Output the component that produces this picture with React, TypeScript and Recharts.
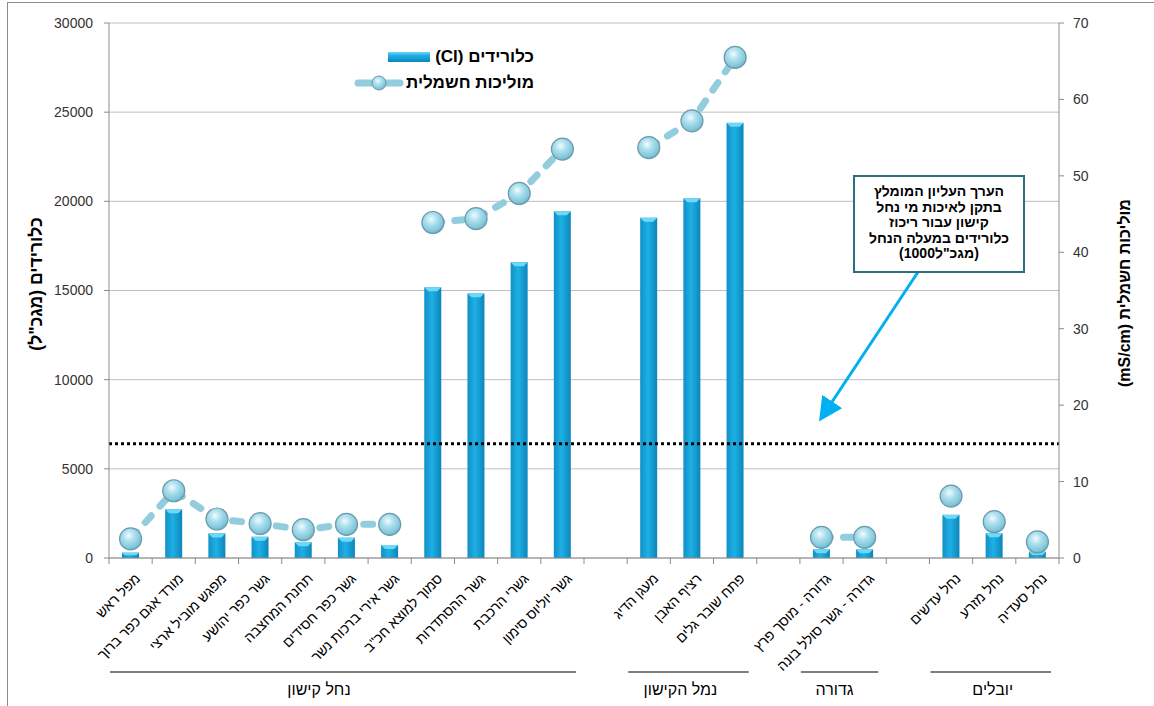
import React from 'react';
import { ComposedChart, Bar, Line, XAxis, YAxis, CartesianGrid, ReferenceLine } from 'recharts';

// ---------- DATA ----------
const categories = [
  'מפל ראש',
  'מורד אגם כפר ברוך',
  'מפגש מוביל ארצי',
  'גשר כפר יהושע',
  'תחנת המחצבה',
  'גשר כפר חסידים',
  'גשר אירי ברכות נשר',
  'סמוך למוצא חכ"ב',
  'גשר ההסתדרות',
  'גשרי הרכבת',
  'גשר יוליוס סימון',
  '',
  'מעגן הדיג',
  'רציף האבן',
  'פתח שובר גלים',
  '',
  'גדורה - מוסך פרץ',
  'גדורה - גשר סולל בונה',
  '',
  'נחל עדשים',
  'נחל מזרע',
  'נחל סעדיה',
];

// chlorides (mg/L), left axis
const chlorides = [300, 2730, 1380, 1190, 880, 1140, 730, 15180, 14840, 16590, 19440, null, 19080, 20170, 24400, null, 490, 490, null, 2420, 1390, 350];

// electrical conductivity (mS/cm), right axis
const conductivity = [2.5, 8.8, 5.1, 4.5, 3.7, 4.4, 4.4, 43.9, 44.4, 47.7, 53.5, null, 53.7, 57.2, 65.5, null, 2.7, 2.7, null, 8.1, 4.75, 2.1];

// which connected line piece each point belongs to (0 = none)
const segmentIds = [1, 1, 1, 1, 1, 1, 1, 2, 2, 2, 2, 0, 3, 3, 3, 0, 4, 4, 0, 5, 6, 7];

const groupNames = ['נחל קישון', 'נמל הקישון', 'גדורה', 'יובלים'];
const groupFirst = [0, 12, 16, 19];
const groupLast = [10, 14, 17, 21];

const leftTicks = [0, 5000, 10000, 15000, 20000, 25000, 30000];
const rightTicks = [0, 10, 20, 30, 40, 50, 60, 70];
const chlorideLimit = 6400;

const legendBarLabel = 'כלורידים (Cl)';
const legendLineLabel = 'מוליכות חשמלית';
const leftTitle = 'כלורידים (מגכ"ל)';
const rightTitle = 'מוליכות חשמלית (mS/cm)';
const noteLines = ['הערך העליון המומלץ', 'בתקן לאיכות מי נחל', 'קישון עבור ריכוז', 'כלורידים במעלה הנחל'];
const noteLast = '(מגכ"ל1000)';

const data = categories.map((name, i) => ({
  name,
  cl: chlorides[i],
  condA: segmentIds[i] % 2 === 1 ? conductivity[i] : null,
  condB: segmentIds[i] > 0 && segmentIds[i] % 2 === 0 ? conductivity[i] : null,
}));

// ---------- LAYOUT / STYLE ----------
const W = 1154;
const H = 706;
const PLOT_LEFT = 109;
const PLOT_RIGHT = 1059;
const PLOT_TOP = 23;
const PLOT_BOTTOM = 558;
const SLOT = (PLOT_RIGHT - PLOT_LEFT) / categories.length;
const FONT = '"Liberation Sans", Arial, sans-serif';
const GROUP_LABEL_DX = [-24, -8, -5, 2];

const CategoryTick = (props: any) => {
  const { x, payload, index } = props;
  const i = payload && typeof payload.index === 'number' ? payload.index : index;
  const label = categories[i];
  const g = groupFirst.indexOf(i);
  const els: any[] = [];
  els.push(<line key="t" x1={x + SLOT / 2} x2={x + SLOT / 2} y1={PLOT_BOTTOM} y2={PLOT_BOTTOM + 6} stroke="#8c8c8c" />);
  if (i === 0) els.push(<line key="t0" x1={x - SLOT / 2} x2={x - SLOT / 2} y1={PLOT_BOTTOM} y2={PLOT_BOTTOM + 6} stroke="#8c8c8c" />);
  if (label) {
    els.push(
      <text
        key="l"
        transform={`translate(${x + 7},${PLOT_BOTTOM + 18}) rotate(-45)`}
        textAnchor="end"
        dy="0.35em"
        fontSize={14}
        fill="#000"
        fontFamily={FONT}
      >
        {label}
      </text>
    );
  }
  if (g >= 0) {
    const n = groupLast[g] - groupFirst[g] + 1;
    const x1 = x - SLOT / 2 + 1;
    const x2 = x - SLOT / 2 + n * SLOT - 8;
    els.push(<line key="gl" x1={x1} x2={x2} y1={PLOT_BOTTOM + 114} y2={PLOT_BOTTOM + 114} stroke="#000" strokeWidth={1.2} />);
    els.push(
      <text key="gt" x={(x1 + x2) / 2 + GROUP_LABEL_DX[g]} y={PLOT_BOTTOM + 137} textAnchor="middle" fontSize={16} fill="#000" fontFamily={FONT}>
        {groupNames[g]}
      </text>
    );
  }
  return <g>{els}</g>;
};

const BarShape = (p: any) => {
  const { x, y, width, height } = p;
  if (height == null || height <= 0) return <g />;
  const b = Math.min(4, height / 2);
  return (
    <g>
      <rect x={x} y={y} width={width} height={height} fill="url(#barGrad)" />
      <polygon points={`${x},${y} ${x + width},${y} ${x + width - b},${y + b} ${x + b},${y + b}`} fill="#6fd8f5" />
    </g>
  );
};

const Sphere = (p: any) => {
  const { cx, cy, value, index } = p;
  if (value == null || cx == null || cy == null || isNaN(cy)) return <g key={`e${index}`} />;
  return <circle key={`s${index}`} cx={cx} cy={cy} r={11} fill="url(#sphereGrad)" stroke="#6c9aab" strokeWidth={1.2} />;
};

const LINE_COLOR = '#93cddd';

export default function App() {
  return (
    <div style={{ position: 'absolute', left: 0, top: 0, width: W, height: H, overflow: 'hidden', background: '#fff', fontFamily: FONT }}>
      <svg width={W} height={H} style={{ position: 'absolute', left: 0, top: 0 }}>
        <rect x={7.5} y={2.5} width={1300} height={900} fill="none" stroke="#8a8a8a" />
      </svg>
      <div style={{ position: 'absolute', left: 0, top: 0 }}>
        <ComposedChart width={W} height={H} data={data} margin={{ top: PLOT_TOP, right: 0, bottom: 0, left: 0 }} barSize={17}>
          <defs>
            <linearGradient id="barGrad" x1="0" y1="0" x2="1" y2="0">
              <stop offset="0%" stopColor="#1190c6" />
              <stop offset="45%" stopColor="#1eb0e5" />
              <stop offset="100%" stopColor="#0c86bb" />
            </linearGradient>
            <radialGradient id="sphereGrad" cx="42%" cy="35%" r="65%">
              <stop offset="0%" stopColor="#f2fbfe" />
              <stop offset="40%" stopColor="#ace0ee" />
              <stop offset="85%" stopColor="#82c6da" />
              <stop offset="100%" stopColor="#6eb2c7" />
            </radialGradient>
          </defs>
          <CartesianGrid yAxisId="left" vertical={false} stroke="#bfbfbf" />
          <XAxis dataKey="name" interval={0} height={H - PLOT_BOTTOM} tickLine={false} axisLine={{ stroke: '#8c8c8c' }} tick={<CategoryTick />} />
          <YAxis
            yAxisId="left"
            width={PLOT_LEFT}
            domain={[0, 30000]}
            ticks={leftTicks}
            interval={0}
            tickSize={5}
            tickMargin={11}
            axisLine={{ stroke: '#8c8c8c' }}
            tickLine={{ stroke: '#8c8c8c' }}
            tick={{ fontSize: 14, fill: '#333', fontFamily: FONT }}
          />
          <YAxis
            yAxisId="right"
            orientation="right"
            width={W - PLOT_RIGHT}
            domain={[0, 70]}
            ticks={rightTicks}
            interval={0}
            tickSize={5}
            tickMargin={9}
            axisLine={{ stroke: '#8c8c8c' }}
            tickLine={{ stroke: '#8c8c8c' }}
            tick={{ fontSize: 14, fill: '#333', fontFamily: FONT }}
          />
          <Bar yAxisId="left" dataKey="cl" shape={<BarShape />} isAnimationActive={false} />
          <ReferenceLine yAxisId="left" y={chlorideLimit} stroke="#000" strokeWidth={3} strokeDasharray="3 3" />
          <Line
            yAxisId="right"
            dataKey="condA"
            type="linear"
            stroke={LINE_COLOR}
            strokeWidth={7}
            strokeDasharray="9 13"
            strokeLinecap="round"
            connectNulls={false}
            dot={(p: any) => <Sphere {...p} />}
            activeDot={false}
            isAnimationActive={false}
          />
          <Line
            yAxisId="right"
            dataKey="condB"
            type="linear"
            stroke={LINE_COLOR}
            strokeWidth={7}
            strokeDasharray="9 13"
            strokeLinecap="round"
            connectNulls={false}
            dot={(p: any) => <Sphere {...p} />}
            activeDot={false}
            isAnimationActive={false}
          />
        </ComposedChart>
      </div>

      {/* legend */}
      <div style={{ position: 'absolute', left: 352, top: 44, width: 182, fontWeight: 'bold', fontSize: 17, color: '#000' }}>
        <div dir="rtl" style={{ display: 'flex', alignItems: 'center', height: 26 }}>
          <span style={{ whiteSpace: 'nowrap' }}>{legendBarLabel}</span>
          <svg width={48} height={14} style={{ marginRight: 3 }}>
            <rect x={4} y={2} width={42} height={10} fill="url(#legBar)" />
            <defs>
              <linearGradient id="legBar" x1="0" y1="0" x2="0" y2="1">
                <stop offset="0%" stopColor="#6fd8f5" />
                <stop offset="35%" stopColor="#1eb0e5" />
                <stop offset="100%" stopColor="#0c86bb" />
              </linearGradient>
            </defs>
          </svg>
        </div>
        <div dir="rtl" style={{ display: 'flex', alignItems: 'center', height: 26 }}>
          <span style={{ whiteSpace: 'nowrap' }}>{legendLineLabel}</span>
          <svg width={52} height={18} style={{ marginRight: 2 }}>
            <line x1={6} x2={20} y1={9} y2={9} stroke={LINE_COLOR} strokeWidth={7} strokeLinecap="round" />
            <line x1={34} x2={48} y1={9} y2={9} stroke={LINE_COLOR} strokeWidth={7} strokeLinecap="round" />
            <circle cx={27} cy={9} r={7} fill="url(#sphereGrad)" stroke="#6c9aab" strokeWidth={1} />
          </svg>
        </div>
      </div>

      {/* axis titles */}
      <div
        dir="rtl"
        style={{ position: 'absolute', left: 36, top: 284, transform: 'translate(-50%,-50%) rotate(-90deg)', whiteSpace: 'nowrap', fontWeight: 'bold', fontSize: 17.5, color: '#000' }}
      >
        {leftTitle}
      </div>
      <div
        dir="rtl"
        style={{ position: 'absolute', left: 1125, top: 293, transform: 'translate(-50%,-50%) rotate(-90deg)', whiteSpace: 'nowrap', fontWeight: 'bold', fontSize: 16, color: '#000' }}
      >
        {rightTitle}
      </div>

      {/* annotation */}
      <svg width={W} height={H} style={{ position: 'absolute', left: 0, top: 0, pointerEvents: 'none' }}>
        <defs>
          <marker id="arrowHead" markerWidth="8" markerHeight="8" refX="5" refY="4" orient="auto" markerUnits="strokeWidth">
            <path d="M0,0 L8,4 L0,8 Z" fill="#00b0f0" />
          </marker>
        </defs>
        <line x1={918} y1={272} x2={824} y2={414} stroke="#00b0f0" strokeWidth={3} markerEnd="url(#arrowHead)" />
      </svg>
      <div
        style={{
          position: 'absolute',
          left: 853,
          top: 175,
          width: 168,
          height: 87,
          border: '2px solid #2f6f7d',
          background: '#fff',
          textAlign: 'center',
          fontWeight: 'bold',
          fontSize: 14,
          lineHeight: '15.5px',
          paddingTop: 7,
          boxSizing: 'content-box',
          color: '#000',
        }}
      >
        {noteLines.map((t, i) => (
          <div key={i} dir="rtl">
            {t}
          </div>
        ))}
        <div dir="ltr">{noteLast}</div>
      </div>
    </div>
  );
}
